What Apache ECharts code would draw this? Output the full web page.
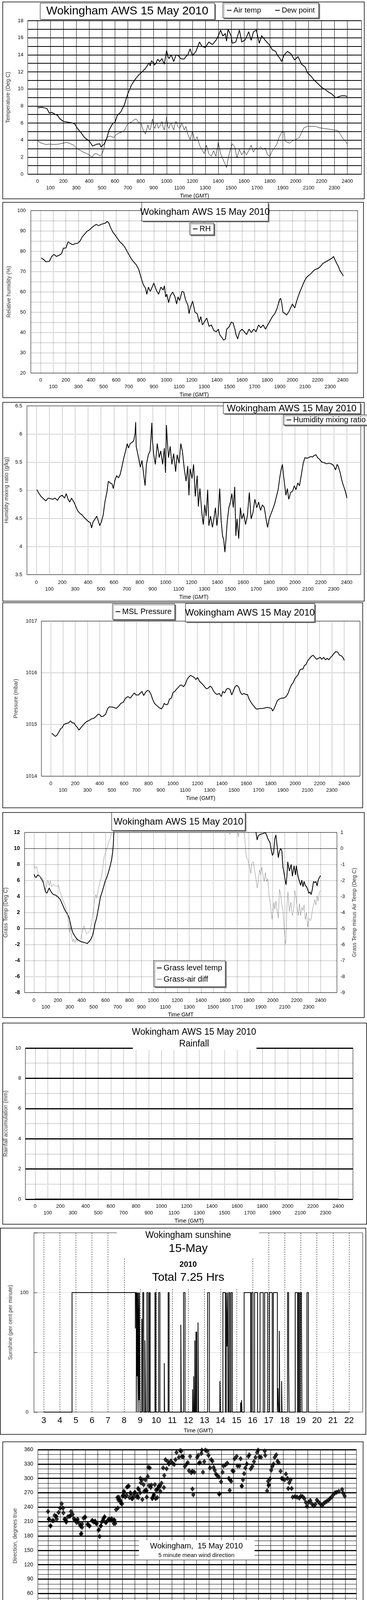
<!DOCTYPE html>
<html><head><meta charset="utf-8">
<script src="https://cdn.jsdelivr.net/npm/echarts@6/dist/echarts.min.js"></script>
<style>html,body{margin:0;padding:0;background:#fff}
#c1{position:absolute;left:0;top:0;width:940px;height:2612px}
#c2{position:absolute;left:0;top:2612px;width:940px;height:2188px}</style>
</head><body><div id="c1"></div><div id="c2"></div>
<script>
// ---------- tick labels ----------
const hhmmTicks = [0,100,200,300,400,500,600,700,800,900,1000,1100,1200,1300,1400,1500,1600,1700,1800,1900,2000,2100,2200,2300,2400];
const hourTicks = [0,1,2,3,4,5,6,7,8,9,10,11,12,13,14,15,16,17,18,19,20,21,22,23,24];
const windLabelHours = [0,1,2,3,4,5,6,7,8,9,10,11,12,13,14,15,16,17,18,19,20,21,22,23];
const sunTicks = [3,4,5,6,7,8,9,10,11,12,13,14,15,16,17,18,19,20,21,22];

// ---------- data (time hhmm, value) ----------
const airTemp = [[0,7.8],[36,7.85],[73,7.7],[91,7.17],[110,7.25],[127,7.1],[155,6.9],[173,6.5],[200,6.2],[236,6.1],[273,6.0],[291,5.85],[309,5.37],[336,4.88],[364,4.3],[400,3.9],[427,3.3],[455,3.5],[482,3.57],[491,3.2],[518,3.57],[536,4.2],[555,5.2],[582,5.94],[600,6.1],[618,6.9],[645,7.3],[673,8.15],[700,9.46],[727,10.44],[755,11.1],[782,11.6],[809,12.0],[836,12.4],[864,13.06],[873,12.7],[882,13.3],[891,13.2],[905,12.8],[918,13.0],[931,13.5],[945,13.2],[964,13.55],[982,12.9],[1000,14.5],[1009,13.9],[1018,13.55],[1036,14.0],[1055,13.2],[1073,14.0],[1091,13.9],[1109,13.55],[1136,13.5],[1150,13.8],[1164,14.0],[1182,14.7],[1200,13.9],[1227,14.4],[1255,15.5],[1273,15.0],[1300,14.86],[1327,15.5],[1355,15.2],[1382,15.7],[1400,16.2],[1418,16.9],[1436,16.2],[1455,16.5],[1464,15.6],[1476,17.0],[1500,16.2],[1509,15.35],[1536,15.5],[1564,16.9],[1582,15.5],[1609,15.76],[1622,16.2],[1636,16.7],[1655,15.7],[1673,16.7],[1695,16.9],[1718,15.35],[1736,16.25],[1764,15.7],[1800,15.1],[1818,14.6],[1845,14.4],[1860,13.9],[1873,13.7],[1891,13.2],[1909,13.96],[1936,14.4],[1964,14.1],[1991,13.4],[2018,13.8],[2045,12.9],[2073,12.57],[2091,11.9],[2118,11.5],[2145,11.0],[2173,10.6],[2200,10.2],[2227,9.95],[2255,9.62],[2282,9.38],[2309,8.97],[2327,9.05],[2355,9.2],[2382,9.2],[2400,9.1]];
const dewPoint = [[0,3.93],[27,3.65],[64,3.49],[91,3.53],[127,3.49],[164,3.53],[200,3.65],[227,3.73],[255,3.57],[282,3.4],[300,3.08],[327,2.83],[355,2.59],[382,2.42],[409,2.18],[422,1.96],[436,2.34],[455,2.42],[473,2.26],[485,2.13],[500,2.42],[513,2.91],[527,4.06],[545,4.39],[564,4.47],[591,4.3],[609,4.63],[627,4.8],[655,4.96],[673,5.12],[691,5.7],[709,6.02],[727,6.1],[745,6.35],[764,6.5],[782,6.1],[800,6.0],[818,5.2],[836,4.7],[855,5.78],[864,5.3],[873,5.2],[891,6.5],[900,5.6],[909,5.37],[918,5.9],[927,6.02],[936,5.4],[945,5.53],[955,5.9],[964,6.19],[973,5.5],[982,5.2],[1000,6.68],[1009,5.6],[1018,5.37],[1027,5.8],[1036,6.02],[1046,5.5],[1055,5.2],[1064,5.8],[1073,6.19],[1086,5.6],[1100,5.37],[1118,6.0],[1136,5.2],[1150,5.6],[1164,4.7],[1182,4.06],[1200,5.04],[1218,3.9],[1236,4.4],[1255,3.4],[1273,2.91],[1291,2.42],[1309,3.4],[1327,2.42],[1345,2.1],[1364,2.75],[1382,2.1],[1400,3.73],[1418,2.42],[1436,1.77],[1455,1.11],[1464,0.79],[1476,1.77],[1491,2.75],[1509,3.57],[1527,3.24],[1545,1.93],[1564,2.91],[1582,2.26],[1600,2.75],[1618,2.26],[1636,2.75],[1655,3.4],[1673,2.59],[1691,3.08],[1709,2.91],[1727,3.24],[1745,2.91],[1764,3.08],[1782,2.26],[1800,2.1],[1818,2.75],[1836,3.08],[1855,3.57],[1873,4.39],[1891,4.88],[1909,5.04],[1918,3.9],[1936,3.73],[1955,3.65],[1973,3.9],[2000,4.06],[2027,4.3],[2045,4.88],[2064,5.45],[2091,5.61],[2127,5.61],[2155,5.61],[2182,5.45],[2218,5.37],[2255,5.29],[2291,5.2],[2327,5.12],[2345,4.7],[2364,4.22],[2382,3.9],[2400,3.57]];
const relHum = [[4,76.6],[22,76.0],[41,74.8],[69,75.0],[88,77.4],[106,78.4],[125,77.4],[153,78.2],[166,78.8],[181,81.5],[200,81.5],[218,84.6],[237,83.7],[256,83.2],[274,83.7],[293,83.9],[312,84.9],[330,87.0],[349,88.4],[368,89.8],[386,90.4],[405,91.5],[424,92.5],[442,93.2],[461,92.5],[479,93.2],[498,93.5],[517,93.9],[526,94.6],[539,94.2],[554,91.8],[573,89.4],[591,88.0],[610,86.3],[629,84.6],[647,83.6],[666,82.2],[685,80.1],[703,78.1],[722,76.0],[741,74.6],[759,73.3],[778,71.2],[797,67.1],[815,63.6],[834,61.6],[843,58.8],[856,62.3],[871,60.2],[890,62.9],[899,64.3],[918,60.9],[937,58.8],[955,62.3],[974,60.9],[983,63.0],[993,57.5],[1002,58.8],[1017,54.7],[1030,58.1],[1049,59.9],[1067,57.5],[1080,54.0],[1091,57.5],[1104,55.7],[1123,60.2],[1136,59.9],[1151,56.1],[1170,53.3],[1179,49.2],[1188,52.0],[1207,55.4],[1226,49.9],[1244,49.2],[1259,45.1],[1272,47.8],[1285,43.7],[1300,45.1],[1319,47.1],[1338,43.0],[1356,43.7],[1375,41.0],[1394,40.3],[1412,41.6],[1422,38.9],[1440,37.5],[1453,36.2],[1468,36.8],[1478,41.6],[1496,42.7],[1515,45.1],[1528,44.7],[1543,41.6],[1552,38.9],[1565,36.8],[1580,40.3],[1599,41.6],[1618,40.3],[1636,38.9],[1655,41.6],[1674,39.9],[1692,41.6],[1711,40.3],[1731,43.7],[1749,42.3],[1767,43.7],[1786,41.6],[1804,43.7],[1823,45.8],[1841,47.8],[1860,49.2],[1879,52.0],[1888,54.0],[1897,56.1],[1907,56.8],[1916,54.0],[1925,49.9],[1944,49.2],[1953,48.5],[1972,50.2],[1990,52.7],[2000,54.0],[2018,52.0],[2037,56.1],[2056,59.5],[2075,62.3],[2093,65.0],[2112,67.1],[2131,68.1],[2149,69.1],[2177,70.9],[2205,71.5],[2224,72.6],[2243,74.0],[2261,74.6],[2280,75.3],[2299,76.0],[2317,76.7],[2327,77.4],[2336,76.0],[2349,74.3],[2364,72.6],[2377,70.5],[2392,69.1],[2405,67.8]];
const mixRatio = [[4,5.01],[18,4.95],[36,4.89],[54,4.85],[73,4.81],[91,4.86],[109,4.85],[127,4.84],[145,4.86],[163,4.82],[182,4.89],[200,4.91],[218,4.86],[231,4.94],[245,4.84],[258,4.79],[272,4.86],[290,4.79],[300,4.74],[318,4.64],[336,4.59],[354,4.56],[372,4.51],[390,4.47],[405,4.44],[418,4.42],[427,4.33],[439,4.44],[454,4.49],[467,4.54],[477,4.47],[490,4.37],[503,4.44],[517,4.56],[530,4.79],[545,4.96],[557,5.16],[572,5.13],[586,5.11],[595,5.03],[608,5.18],[621,5.26],[635,5.22],[648,5.28],[663,5.43],[677,5.58],[690,5.70],[703,5.83],[713,5.75],[726,5.83],[739,5.85],[753,5.88],[764,6.02],[768,6.21],[772,5.78],[790,5.58],[804,5.41],[817,5.53],[830,5.28],[841,5.08],[851,5.46],[866,5.63],[880,5.70],[893,6.2],[897,5.9],[908,5.63],[920,5.46],[935,5.83],[950,5.58],[962,5.70],[977,5.46],[990,5.75],[999,5.31],[1006,6.16],[1012,5.9],[1022,5.58],[1035,5.78],[1048,5.46],[1062,5.65],[1077,5.33],[1089,5.63],[1104,5.48],[1117,5.83],[1129,5.70],[1144,5.38],[1158,5.16],[1171,5.43],[1180,4.91],[1189,5.38],[1204,5.21],[1216,5.46],[1229,4.89],[1244,5.26],[1253,4.71],[1265,5.03],[1280,4.59],[1291,4.39],[1302,4.74],[1313,4.54],[1325,5.01],[1334,4.37],[1347,4.54],[1362,4.34],[1374,4.51],[1385,4.69],[1396,4.37],[1407,4.59],[1418,5.03],[1429,4.47],[1440,4.19],[1449,4.12],[1458,3.90],[1467,4.14],[1476,4.44],[1489,4.69],[1501,4.79],[1512,4.94],[1523,4.69],[1534,5.06],[1543,4.19],[1552,4.49],[1565,4.14],[1578,4.69],[1589,4.49],[1603,4.59],[1618,4.39],[1632,4.54],[1647,4.96],[1661,4.49],[1676,4.61],[1690,4.84],[1705,4.69],[1719,4.79],[1734,4.64],[1748,4.74],[1763,4.69],[1778,4.47],[1788,4.34],[1801,4.49],[1816,4.59],[1828,4.66],[1843,4.76],[1857,4.89],[1870,5.01],[1883,5.23],[1894,5.38],[1903,5.46],[1912,5.26],[1921,5.08],[1930,4.91],[1941,5.03],[1952,4.84],[1967,4.96],[1983,4.99],[1995,5.08],[2008,5.01],[2022,5.13],[2035,5.08],[2050,5.28],[2064,5.48],[2077,5.58],[2092,5.57],[2106,5.58],[2121,5.60],[2135,5.59],[2150,5.62],[2163,5.63],[2175,5.58],[2190,5.55],[2208,5.50],[2226,5.49],[2244,5.47],[2262,5.48],[2281,5.47],[2299,5.44],[2314,5.36],[2326,5.46],[2334,5.43],[2350,5.31],[2362,5.18],[2375,5.08],[2389,4.99],[2402,4.86]];
const mslPressure = [[8,1014.83],[23,1014.80],[36,1014.77],[50,1014.79],[65,1014.85],[81,1014.92],[94,1014.94],[107,1015.00],[127,1015.02],[146,1015.03],[161,1015.07],[177,1015.03],[190,1015.03],[203,1014.98],[219,1014.94],[230,1014.89],[247,1014.94],[261,1014.98],[276,1015.02],[295,1015.06],[315,1015.08],[334,1015.11],[353,1015.12],[372,1015.16],[387,1015.20],[401,1015.19],[414,1015.15],[430,1015.16],[449,1015.20],[464,1015.30],[478,1015.34],[497,1015.34],[516,1015.33],[535,1015.31],[554,1015.35],[574,1015.41],[593,1015.43],[612,1015.51],[631,1015.54],[650,1015.51],[670,1015.57],[683,1015.61],[698,1015.57],[717,1015.57],[733,1015.61],[746,1015.64],[760,1015.56],[775,1015.62],[790,1015.66],[803,1015.65],[817,1015.60],[833,1015.49],[848,1015.41],[861,1015.38],[875,1015.35],[890,1015.32],[905,1015.30],[919,1015.35],[928,1015.41],[942,1015.38],[957,1015.39],[971,1015.49],[986,1015.51],[1001,1015.62],[1015,1015.64],[1028,1015.68],[1044,1015.72],[1059,1015.76],[1072,1015.76],[1086,1015.73],[1101,1015.78],[1115,1015.87],[1130,1015.92],[1143,1015.95],[1159,1015.93],[1174,1015.91],[1187,1015.87],[1201,1015.91],[1216,1015.84],[1232,1015.80],[1245,1015.77],[1259,1015.73],[1274,1015.69],[1287,1015.70],[1303,1015.74],[1316,1015.72],[1331,1015.65],[1347,1015.60],[1360,1015.58],[1379,1015.60],[1395,1015.54],[1408,1015.64],[1423,1015.61],[1437,1015.68],[1450,1015.70],[1466,1015.68],[1481,1015.57],[1494,1015.65],[1508,1015.73],[1523,1015.76],[1538,1015.72],[1552,1015.62],[1565,1015.58],[1581,1015.60],[1596,1015.58],[1609,1015.58],[1623,1015.49],[1638,1015.43],[1653,1015.38],[1667,1015.34],[1680,1015.30],[1696,1015.30],[1715,1015.31],[1734,1015.31],[1753,1015.32],[1772,1015.33],[1792,1015.32],[1807,1015.31],[1815,1015.26],[1826,1015.30],[1840,1015.38],[1853,1015.46],[1869,1015.49],[1888,1015.51],[1907,1015.51],[1926,1015.54],[1941,1015.60],[1955,1015.69],[1968,1015.76],[1983,1015.81],[1998,1015.89],[2012,1015.93],[2025,1015.97],[2037,1016.05],[2050,1016.07],[2063,1016.07],[2075,1016.14],[2088,1016.16],[2102,1016.23],[2118,1016.28],[2133,1016.32],[2147,1016.34],[2160,1016.30],[2175,1016.26],[2191,1016.28],[2204,1016.30],[2218,1016.26],[2233,1016.30],[2248,1016.25],[2262,1016.28],[2275,1016.25],[2290,1016.30],[2304,1016.33],[2319,1016.38],[2333,1016.41],[2348,1016.40],[2363,1016.34],[2377,1016.33],[2390,1016.30],[2402,1016.24]];
const grassTemp = [[2,6.78],[10,6.45],[20,6.37],[30,6.69],[49,6.53],[69,6.04],[79,5.71],[89,5.06],[98,4.57],[108,4.41],[118,4.73],[128,5.06],[138,4.73],[148,4.49],[163,4.24],[183,4.16],[203,3.92],[222,3.59],[236,3.10],[250,2.61],[266,2.12],[281,1.80],[295,1.31],[305,0.65],[315,0.0],[325,-0.49],[334,-0.73],[344,-0.98],[360,-1.31],[374,-1.47],[393,-1.63],[413,-1.71],[433,-1.80],[447,-1.88],[462,-1.63],[478,-1.31],[492,-0.82],[502,-0.16],[512,0.65],[525,1.31],[541,2.61],[557,3.92],[571,4.57],[584,5.22],[596,5.88],[610,6.37],[624,7.02],[639,7.84],[651,8.65],[659,9.5],[665,10.5],[669,12],[675,13.5],[700,null],[1855,13.0],[1859,12.0],[1869,11.06],[1879,11.6],[1898,11.77],[1918,11.86],[1938,11.98],[1948,11.68],[1958,11.24],[1977,10.71],[1987,9.82],[1997,9.12],[2007,9.47],[2017,11.24],[2026,11.68],[2036,10.35],[2046,8.85],[2056,9.65],[2066,10.0],[2076,9.65],[2085,7.67],[2095,6.86],[2105,5.88],[2111,5.47],[2119,6.69],[2125,8.33],[2139,7.18],[2154,8.0],[2164,6.53],[2178,7.84],[2190,6.69],[2197,7.84],[2209,6.69],[2217,6.20],[2233,5.39],[2243,6.04],[2253,5.22],[2262,5.88],[2272,5.39],[2282,5.22],[2292,4.90],[2302,4.41],[2312,4.57],[2321,4.24],[2331,4.90],[2341,5.88],[2351,5.71],[2361,5.88],[2371,5.31],[2380,6.04],[2390,6.37],[2400,6.61]];
const grassAirDiff = [[2,-1.08],[10,-1.24],[20,-1.12],[30,-1.41],[39,-1.65],[49,-1.73],[59,-1.94],[69,-1.82],[79,-2.06],[89,-2.39],[98,-2.55],[108,-2.22],[118,-1.98],[128,-2.31],[138,-2.02],[148,-2.39],[163,-2.22],[177,-2.31],[191,-2.39],[207,-2.31],[216,-2.63],[226,-2.88],[242,-3.20],[256,-3.45],[270,-3.78],[281,-4.02],[289,-4.67],[297,-5.24],[305,-4.92],[315,-5.49],[325,-5.82],[334,-5.65],[344,-5.90],[354,-5.65],[364,-5.82],[380,-5.73],[393,-5.65],[407,-5.08],[419,-4.84],[427,-5.08],[443,-5.33],[458,-5.24],[472,-5.08],[486,-4.51],[498,-3.86],[508,-3.20],[518,-2.88],[525,-3.12],[537,-2.63],[551,-2.14],[565,-1.82],[576,-1.24],[584,-0.76],[590,-0.43],[600,-0.27],[610,0.0],[624,0.35],[639,0.62],[649,1.0],[655,1.4],[700,null],[1630,1.3],[1640,0.88],[1655,1.3],[1690,null],[1700,1.3],[1712,0.71],[1722,1.3],[1740,null],[1760,1.3],[1771,0.0],[1780,-0.62],[1790,-0.67],[1804,-1.08],[1816,-1.57],[1824,-0.92],[1836,-0.84],[1849,-1.41],[1859,-1.90],[1869,-2.47],[1879,-2.06],[1889,-1.33],[1899,-1.65],[1908,-1.16],[1918,-1.65],[1928,-2.06],[1938,-1.49],[1948,-2.06],[1958,-1.90],[1967,-2.80],[1977,-3.37],[1987,-3.94],[1993,-4.43],[2001,-3.94],[2009,-3.37],[2017,-3.78],[2026,-3.29],[2036,-3.86],[2046,-4.35],[2056,-2.55],[2066,-2.88],[2076,-3.53],[2085,-3.86],[2095,-5.0],[2101,-5.73],[2107,-5.98],[2111,-5.49],[2119,-3.53],[2127,-2.71],[2139,-3.94],[2151,-3.37],[2164,-4.18],[2174,-3.86],[2184,-2.63],[2194,-3.04],[2204,-3.69],[2213,-4.18],[2223,-3.45],[2233,-4.18],[2243,-3.69],[2253,-3.86],[2262,-3.53],[2272,-4.43],[2282,-4.02],[2292,-4.92],[2302,-4.35],[2312,-4.51],[2321,-4.43],[2331,-3.86],[2341,-3.53],[2351,-3.20],[2361,-3.53],[2371,-2.96],[2380,-3.29],[2390,-2.71],[2400,-2.63]];
const rainfall = [[0,0],[600,0],[1200,0],[1800,0],[2400,0]];
// sunshine: (hour, per cent) – each value holds until the next point
const sunshine = [[3.00,0],[4.76,100],[8.70,70],[8.71,100],[8.76,0],[8.78,100],[8.81,30],[8.83,100],[8.87,0],[8.89,100],[8.93,10],[8.95,100],[8.99,0],[9.10,78],[9.14,0],[9.16,100],[9.22,0],[9.30,60],[9.34,0],[9.42,100],[9.50,0],[9.57,100],[9.62,0],[9.92,100],[9.98,0],[10.15,100],[10.23,0],[10.50,41],[10.52,0],[10.74,100],[10.80,0],[11.53,73],[11.56,0],[11.70,100],[11.79,0],[12.26,19],[12.28,0],[12.33,30],[12.35,0],[12.40,60],[12.42,0],[12.47,67],[12.52,0],[12.60,75],[12.63,0],[13.20,100],[13.31,0],[13.96,26],[13.99,0],[14.15,100],[14.30,0],[14.36,100],[14.40,55],[14.44,100],[14.47,0],[14.52,100],[14.59,0],[14.66,100],[14.74,0],[15.25,8],[15.28,0],[15.31,10],[15.34,0],[15.47,100],[15.88,0],[15.93,100],[16.02,0],[16.12,100],[16.31,0],[16.46,100],[16.66,0],[16.75,100],[16.93,0],[17.04,100],[17.22,0],[17.29,100],[17.54,0],[17.58,20],[17.61,0],[17.66,68],[17.69,0],[17.80,26],[17.83,0],[18.17,100],[18.24,40],[18.27,0],[18.65,100],[18.80,0],[18.85,100],[18.91,0],[18.97,100],[19.04,80],[19.07,0],[19.38,100],[19.47,0],[22.00,0]];
// wind direction (hour, degrees)
const windDir = [[0.0,231],[0.09,215],[0.21,201],[0.35,212],[0.53,223],[0.67,221],[0.71,215],[0.85,229],[0.98,238],[1.10,247],[1.21,238],[1.24,228],[1.33,215],[1.47,209],[1.60,220],[1.74,221],[1.86,231],[1.99,225],[2.09,216],[2.22,212],[2.30,208],[2.39,215],[2.52,206],[2.62,201],[2.70,185],[2.75,205],[2.87,217],[3.01,219],[3.19,204],[3.33,201],[3.55,212],[3.69,209],[3.81,209],[3.94,206],[4.11,193],[4.26,201],[4.34,209],[4.47,216],[4.57,220],[4.70,208],[4.84,213],[5.0,213],[5.14,216],[5.32,213],[5.43,206],[5.50,235],[5.64,238],[5.71,261],[5.82,255],[5.90,248],[6.03,263],[6.12,273],[6.24,261],[6.38,282],[6.52,284],[6.65,270],[6.77,258],[6.91,263],[7.0,270],[7.18,261],[7.27,279],[7.45,270],[7.62,256],[7.77,273],[7.89,275],[7.98,261],[8.16,285],[8.30,281],[8.42,258],[8.55,266],[8.69,258],[8.83,277],[8.95,284],[9.08,273],[9.36,281],[11.67,278],[11.74,266],[13.83,267],[14.68,275],[15.66,284],[17.70,274],[17.82,285],[19.41,279],[19.68,279],[19.77,261],[19.95,262],[20.12,261],[20.30,259],[20.43,263],[20.57,262],[20.71,258],[20.83,250],[20.92,242],[21.06,250],[21.19,254],[21.31,247],[21.45,243],[21.60,246],[21.72,255],[21.84,251],[21.99,247],[22.13,243],[22.25,247],[22.38,250],[22.52,252],[22.66,255],[22.78,258],[22.91,261],[23.05,266],[23.19,270],[23.32,271],[23.49,273],[23.76,277],[23.85,269],[23.97,263],
[0.06,215],[0.19,201],[0.44,212],[0.63,220],[1.39,215],[1.48,211],[1.8,222],[2.18,213],[2.37,212],[2.66,201],[2.66,184],[2.75,198],[2.98,219],[3.23,204],[3.36,201],[3.6,212],[3.8,211],[3.89,206],[4.08,192],[4.17,179],[4.27,201],[4.46,212],[4.55,219],[4.65,208],[4.93,215],[5.12,213],[5.31,206],[5.37,213],[10.53,16],[10.49,6],[12.9,15.5],[17.3,9.5],[17.42,6.3],
[5.6,260],[5.69,255],[5.88,251],[5.98,247],[6.07,265],[6.17,271],[6.36,265],[6.45,283],[6.58,260],[6.7,268],[6.83,258],[7.02,271],[7.21,265],[7.31,260],[7.34,277],[7.46,300],[7.5,291],[7.59,297],[7.72,287],[7.87,297],[7.97,274],[8.06,304],[8.1,323],[8.22,322],[8.35,286],[8.44,260],[8.54,265],[8.63,287],[8.73,276],[8.82,260],[8.92,281],[9.05,284],[9.17,290],[9.3,322],[9.39,306],[9.49,339],[9.58,320],[9.68,335],[9.77,330],[9.92,336],[10.06,332],[10.19,329],[10.3,339],[10.38,354],[10.57,344],[10.68,358],[10.76,357],[10.82,346],[10.91,345],[11.06,325],[11.2,330],[11.29,333],[11.39,316],[11.48,346],[11.58,312],[11.67,315],[11.82,313],[12.05,344],[12.14,348],[12.2,332],[12.28,333],[12.39,352],[12.43,359],[12.52,313],[12.62,335],[12.71,359],[12.85,357],[12.96,348],[13.09,322],[13.19,339],[13.28,336],[13.38,323],[13.47,317],[13.57,309],[13.66,306],[13.8,303],[13.85,268],[13.98,293],[14.1,313],[14.17,326],[14.33,328],[14.48,332],[14.61,300],[14.71,297],[14.8,294],[14.9,316],[14.99,315],[15.08,341],[15.24,346],[15.31,326],[15.46,326],[15.56,341],[15.65,284],[15.75,297],[15.84,310],[15.94,322],[16.07,330],[16.19,346],[16.26,349],[16.38,320],[16.51,325],[16.64,335],[16.76,344],[16.89,354],[16.98,359],[17.08,345],[17.21,344],[17.51,357],[17.55,348],[17.78,294],[17.84,287],[17.93,299],[18.03,317],[18.12,325],[18.22,330],[18.31,344],[18.44,349],[18.54,336],[18.63,333],[18.79,315],[18.88,300],[18.98,299],[19.11,297],[19.22,309],[19.35,300],[19.49,291],[19.6,297]];
// wind speed (hour, knots)
const windMean = [[0.04,2.76],[0.22,2.3],[0.49,2.53],[0.67,2.18],[0.95,2.3],[1.22,2.44],[1.49,2.18],[1.76,2.53],[1.95,1.87],[2.13,1.64],[2.4,1.55],[2.67,1.64],[2.85,1.87],[3.13,2.3],[3.4,2.18],[3.67,2.08],[3.95,2.08],[4.22,1.87],[4.49,2.0],[4.76,2.3],[5.04,2.44],[5.31,2.08],[5.55,1.42],[5.67,2.08],[5.85,3.2],[6.04,2.76],[6.22,2.53],[6.4,3.2],[6.58,2.98],[6.76,3.42],[6.95,3.2],[7.13,3.86],[7.31,4.31],[7.49,5.2],[7.67,3.86],[7.85,3.2],[8.04,4.31],[8.22,4.76],[8.4,4.09],[8.58,3.07],[8.76,4.31],[8.95,5.2],[9.13,4.09],[9.31,4.53],[9.49,2.3],[9.67,4.76],[9.85,5.2],[10.04,4.09],[10.22,4.98],[10.4,4.53],[10.58,5.64],[10.76,4.98],[10.95,6.09],[11.13,7.2],[11.31,6.09],[11.49,4.76],[11.67,5.2],[11.85,3.42],[12.04,5.64],[12.22,4.31],[12.4,3.2],[12.58,5.64],[12.76,6.98],[12.95,4.31],[13.13,6.09],[13.31,4.76],[13.49,3.86],[13.67,5.42],[13.85,6.98],[14.04,6.09],[14.22,7.42],[14.4,6.09],[14.58,6.98],[14.76,3.42],[14.95,7.2],[15.13,7.87],[15.31,6.53],[15.49,5.2],[15.67,6.09],[15.85,4.98],[16.04,5.2],[16.22,6.09],[16.4,4.76],[16.58,3.42],[16.76,5.2],[16.95,6.09],[17.13,5.64],[17.31,3.86],[17.49,3.2],[17.67,4.31],[17.85,4.76],[18.04,3.42],[18.22,2.53],[18.4,2.3],[18.58,2.08],[18.85,1.42],[19.04,2.08],[19.22,2.53],[19.4,2.98],[19.58,3.2],[19.76,2.76],[19.95,2.98],[20.13,3.42],[20.31,3.86],[20.49,4.76],[20.67,5.2],[20.85,4.31],[21.04,3.64],[21.31,4.53],[21.58,4.76],[21.85,4.98],[22.04,6.09],[22.22,5.64],[22.4,4.98],[22.67,4.31],[22.95,3.64],[23.22,3.64],[23.49,3.64],[23.67,4.31],[23.85,3.42]];
const windGust = [[0.04,3.87],[0.13,4.3],[0.27,3.6],[0.36,4.5],[0.49,3.2],[0.64,3.9],[0.76,3.0],[0.89,3.6],[1.04,4.1],[1.18,3.0],[1.31,3.9],[1.44,4.3],[1.58,3.2],[1.73,3.9],[1.85,3.0],[2.04,2.5],[2.16,2.1],[2.31,1.6],[2.45,2.1],[2.58,2.3],[2.76,1.9],[2.89,3.2],[3.04,3.9],[3.18,3.0],[3.31,3.6],[3.44,3.2],[3.58,2.8],[3.76,3.0],[3.95,2.5],[4.13,2.8],[4.31,2.5],[4.49,3.0],[4.67,2.8],[4.85,3.4],[5.04,3.2],[5.22,2.8],[5.4,2.5],[5.55,1.6],[5.67,5.6],[5.76,4.3],[5.85,6.1],[5.98,3.9],[6.13,5.0],[6.27,4.3],[6.4,5.6],[6.53,4.3],[6.67,6.1],[6.85,4.8],[7.04,6.1],[7.22,3.9],[7.36,7.0],[7.49,8.7],[7.58,6.1],[7.76,7.4],[7.95,9.2],[8.04,5.2],[8.16,7.9],[8.31,6.1],[8.45,8.5],[8.58,5.2],[8.73,9.2],[8.85,6.1],[9.0,8.3],[9.13,5.2],[9.25,7.9],[9.4,3.4],[9.55,7.4],[9.67,11.0],[9.8,7.0],[9.95,11.0],[10.09,6.1],[10.22,9.6],[10.35,7.0],[10.49,10.1],[10.64,6.1],[10.76,9.2],[10.89,11.9],[11.0,13.2],[11.07,9.6],[11.18,11.0],[11.31,7.9],[11.44,7.0],[11.58,8.7],[11.73,6.5],[11.85,4.8],[11.98,7.0],[12.13,4.3],[12.27,7.9],[12.4,6.1],[12.53,12.3],[12.64,8.7],[12.76,10.5],[12.89,5.2],[13.04,8.7],[13.18,6.5],[13.31,9.6],[13.44,5.2],[13.58,7.9],[13.73,5.6],[13.85,11.0],[13.98,12.7],[14.09,9.6],[14.22,12.3],[14.36,14.3],[14.49,10.5],[14.6,6.1],[14.71,4.3],[14.82,13.6],[14.95,10.5],[15.07,11.4],[15.22,8.3],[15.36,10.1],[15.49,7.0],[15.62,9.6],[15.76,12.3],[15.91,7.9],[16.04,9.6],[16.16,6.1],[16.31,11.0],[16.45,7.0],[16.58,4.3],[16.71,10.5],[16.85,7.9],[17.0,9.6],[17.13,7.0],[17.25,6.1],[17.4,5.2],[17.55,7.0],[17.67,4.3],[17.76,9.2],[17.91,5.2],[18.04,4.3],[18.16,3.9],[18.31,3.0],[18.45,3.4],[18.58,3.9],[18.71,2.5],[18.85,1.6],[19.0,5.6],[19.13,3.9],[19.25,5.2],[19.4,6.1],[19.55,4.3],[19.67,5.2],[19.8,3.4],[19.95,5.6],[20.09,4.3],[20.22,6.1],[20.35,4.8],[20.49,9.2],[20.64,7.0],[20.76,7.4],[20.89,5.6],[21.04,5.2],[21.13,8.3],[21.25,7.0],[21.4,7.4],[21.55,6.5],[21.67,7.9],[21.8,10.5],[21.91,7.9],[22.04,9.6],[22.16,7.0],[22.31,7.9],[22.45,6.5],[22.58,7.0],[22.71,5.6],[22.85,6.1],[23.0,4.8],[23.13,5.6],[23.25,4.3],[23.4,7.9],[23.55,4.8],[23.67,6.1],[23.76,4.3],[23.85,5.6],[23.95,3.2]];

// ---------- chart helpers ----------
const F = "'Liberation Sans', Arial, Helvetica, sans-serif";
const dotted = {color:'#000', width:1, type:[1,2]};
let opt, G, OFF = 0;
function newOption(off){OFF=off;opt={animation:false,backgroundColor:'#fff',grid:[],xAxis:[],yAxis:[],series:[],legend:[],graphic:{elements:[]}};G=opt.graphic.elements;}
function addGrid(l,t,w,h){opt.grid.push({left:l,top:t-OFF,width:w,height:h,show:true,borderColor:'#000',borderWidth:1,backgroundColor:'rgba(0,0,0,0)'});return opt.grid.length-1;}
function addX(o){opt.xAxis.push(o);return opt.xAxis.length-1;}
function addY(o){opt.yAxis.push(o);return opt.yAxis.length-1;}
function ts(size,extra){return Object.assign({fontFamily:F,fontSize:size,color:'#000'},extra||{});}
function hhmmX(gi,min,max,margin,nameGap,name,split){
  return {type:'value',gridIndex:gi,min:min,max:max,name:name,nameLocation:'middle',nameGap:nameGap,nameTextStyle:ts(14),
    axisLine:{show:false},axisTick:{show:false,customValues:hhmmTicks},
    axisLabel:Object.assign(ts(13),{customValues:hhmmTicks,margin:margin,lineHeight:17,showMinLabel:true,showMaxLabel:true,
      formatter:function(v){return (Math.round(v/100)%2)?'\n'+v:String(v);}}),
    splitLine:{show:true,lineStyle:split}};
}
function valY(gi,min,max,interval,name,nameGap,labelOpt,split,extra){
  return Object.assign({type:'value',gridIndex:gi,position:'left',min:min,max:max,interval:interval,name:name,nameLocation:'middle',nameGap:nameGap,
    nameTextStyle:ts(14,{color:'#333'}),axisLine:{show:false},axisTick:{show:false},
    axisLabel:Object.assign(ts(13,{formatter:function(v){return String(v);}}),labelOpt||{}),splitLine:{show:!!split,lineStyle:split||{}}},extra||{});
}
function line(name,xi,yi,data,width,color){
  return {name:name,type:'line',xAxisIndex:xi,yAxisIndex:yi,data:data,showSymbol:false,symbol:'none',connectNulls:false,
    lineStyle:{width:width,color:color},itemStyle:{color:color},z:3,silent:true};
}
function frame(x,y,w,h){G.push({type:'rect',shape:{x:x,y:y-OFF,width:w,height:h},style:{fill:'none',stroke:'#000',lineWidth:1.5},z:50});}
function box(x,y,w,h,shadow,border){
  if(shadow)G.push({type:'rect',shape:{x:x+3,y:y+3-OFF,width:w,height:h},style:{fill:'#7a7a7a'},z:99});
  G.push({type:'rect',shape:{x:x,y:y-OFF,width:w,height:h},style:{fill:'#fff',stroke:border?'#000':null,lineWidth:1},z:100});
}
function text(x,y,s,size,weight){G.push({type:'text',x:x,y:y-OFF,style:{text:s,fontFamily:F,fontSize:size,fontWeight:weight||'normal',fill:'#000',align:'center',verticalAlign:'middle'},z:101});}
function legend(o){o.top=o.top-OFF;opt.legend.push(Object.assign({backgroundColor:'#fff',borderColor:'#000',borderWidth:1,
  shadowColor:'#7a7a7a',shadowOffsetX:3,shadowOffsetY:3,shadowBlur:0,icon:'rect',itemWidth:12,itemHeight:2,
  selectedMode:false,textStyle:ts(19),z:120},o));}
let g,x,y;

// ================= chart 1 (panels 1-5) =================
newOption(0);
// ---- Panel 1: temperature ----
frame(7,5,926,504);
g = addGrid(71,53,855,393);
x = addX(hhmmX(g,-76,2510,10,49,'Time (GMT)',{color:'#000',width:1}));
y = addY(valY(g,0,18,1,'Temperature (Deg C)',43,{margin:11,formatter:function(v){return v%2?'':String(v);}},{color:'#000',width:2.2}));
opt.series.push(line('Air temp',x,y,airTemp,2,'#000'));
opt.series.push(line('Dew point',x,y,dewPoint,1,'#000'));
box(103,8,447,42,true,true); text(326,29,'Wokingham AWS 15 May 2010',30);
legend({left:571,top:7,orient:'horizontal',data:['Air temp','Dew point'],padding:[10,10],itemGap:36});

// ---- Panel 2: RH ----
frame(7,518,924,500);
g = addGrid(79,539,837,416);
x = addX(hhmmX(g,-78,2518,10,49,'Time (GMT)',dotted));
y = addY(valY(g,20,100,5,'Relative humidity (%)',49,{margin:13,formatter:function(v){return v%10?'':String(v);}},dotted));
opt.series.push(line('RH',x,y,relHum,2,'#000'));
box(363,518,324,48,true,true); text(525,543,'Wokingham AWS 15 May 2010',24);
legend({left:486,top:571,data:['RH'],padding:[5,8],textStyle:ts(20)});

// ---- Panel 3: mixing ratio ----
frame(7,1030,926,509);
g = addGrid(69,1039,855,432);
x = addX(hhmmX(g,-73,2509,12,51,'Time (GMT)',dotted));
y = addY(valY(g,3.5,6.5,0.5,'Humidity mixing ratio (g/kg)',45,{margin:12},dotted));
opt.series.push(line('Humidity mixing ratio',x,y,mixRatio,2,'#000'));
box(572,1031,351,28,true,true); text(747,1046,'Wokingham AWS 15 May 2010',24);
legend({left:726,top:1062,data:['Humidity mixing ratio'],padding:[3,8],textStyle:ts(20)});

// ---- Panel 4: pressure ----
frame(7,1543,922,525);
g = addGrid(106,1590,816,397);
x = addX(hhmmX(g,-77,2530,11,50,'Time (GMT)',dotted));
y = addY(valY(g,1014,1017,1,'Pressure (mbar)',58,{margin:11},dotted));
opt.series.push(line('MSL Pressure',x,y,mslPressure,2,'#000'));
box(475,1545,331,47,true,true); text(640,1569,'Wokingham AWS 15 May 2010',24);
legend({left:288,top:1546,data:['MSL Pressure'],padding:[10,8],textStyle:ts(20)});

// ---- Panel 5: grass temperature ----
frame(7,2080,926,525);
g = addGrid(63,2131,800,410);
x = addX(hhmmX(g,-78,2537,12,50,'Time GMT',dotted));
const yL = addY(valY(g,-8,12,2,'Grass Temp (Deg C)',41,{margin:12,fontWeight:'bold',fontSize:14},dotted));
const yR = addY(valY(g,-9,1,1,'Grass Temp minus Air Temp (Deg C)',38,{margin:9},null,{position:'right'}));
const gt = line('Grass level temp',x,yL,grassTemp,2,'#000');
gt.markLine = {silent:true,symbol:'none',label:{show:false},lineStyle:{color:'#000',width:1,type:'solid'},data:[{yAxis:0},{yAxis:10}]};
opt.series.push(gt);
opt.series.push(line('Grass-air diff',x,yR,grassAirDiff,1,'#8a8a8a'));
box(286,2080,342,46,true,true); text(457,2104,'Wokingham AWS 15 May 2010',24);
legend({left:394,top:2459,orient:'vertical',data:['Grass level temp','Grass-air diff'],padding:[9,8],itemGap:9,textStyle:ts(20)});

echarts.init(document.getElementById('c1'),null,{renderer:'canvas',width:940,height:2612}).setOption(opt);

// ================= chart 2 (panels 6-9) =================
newOption(2612);
// ---- Panel 6: rainfall ----
frame(7,2619,932,515);
g = addGrid(62,2683,842,387);
x = addX(hhmmX(g,-77,2517,10,49,'Time (GMT)',dotted));
addY(valY(g,0,10,1,'',0,{show:false},dotted));
y = addY(valY(g,0,10,2,'Rainfall accumulation (mm)',43,{margin:11},{color:'#000',width:3}));
opt.series.push(line('Rainfall',x,y,rainfall,3,'#000'));
box(340,2620,317,68,false,false);
text(497,2643,'Wokingham AWS 15 May 2010',23); text(497,2673,'Rainfall',23);

// ---- Panel 7: sunshine ----
frame(1,3144,936,528);
g = addGrid(87,3156,842,459);
x = addX({type:'value',gridIndex:g,min:2.39,max:22.85,name:'Time (GMT)',nameLocation:'middle',nameGap:41,nameTextStyle:ts(14),
  axisLine:{show:false},axisTick:{show:false,customValues:sunTicks},
  axisLabel:Object.assign(ts(22),{customValues:sunTicks,margin:11,showMinLabel:true,showMaxLabel:true}),
  splitLine:{show:true,lineStyle:{color:'#000',width:1,type:[3,3]}}});
y = addY(valY(g,0,150,50,'Sunshine (per cent per minute)',53,{margin:14,formatter:function(v){return (v===0||v===100)?String(v):'';}},
  {color:'#aaa',width:1,type:[1,1]},{axisTick:{show:true,inside:true,length:9,lineStyle:{color:'#000'}}}));
const sun = line('Sunshine',x,y,sunshine,2,'#000'); sun.step='end';
opt.series.push(sun);
box(299,3145,365,77,false,false); box(322,3220,322,77,false,false);
text(482,3163,'Wokingham sunshine',23); text(482,3197,'15-May',30); text(482,3237,'2010',20,'bold'); text(482,3271,'Total 7.25 Hrs',30);

// ---- Panel 8: wind direction ----
frame(7,3691,923,515);
g = addGrid(97,3711,816,442);
x = addX({type:'value',gridIndex:g,min:-0.82,max:24.92,name:'Time (GMT)',nameLocation:'middle',nameGap:33,nameTextStyle:ts(14),
  axisLine:{show:false},axisTick:{show:false,customValues:hourTicks},
  axisLabel:Object.assign(ts(13),{customValues:hourTicks,margin:12,showMinLabel:true,showMaxLabel:true}),
  splitLine:{show:true,lineStyle:{color:'#000',width:1}}});
addY(valY(g,0,360,10,'',0,{show:false},{color:'#000',width:1}));
y = addY(valY(g,0,360,30,'Direction, degrees true',51,{margin:12,fontSize:14},{color:'#000',width:3}));
opt.series.push({name:'Wind direction',type:'scatter',xAxisIndex:x,yAxisIndex:y,data:windDir,symbol:'diamond',symbolSize:[11,14],
  itemStyle:{color:'#000'},z:3,silent:true});
box(356,3943,296,50,false,false);
text(503,3958,'Wokingham,  15 May 2010',20); text(503,3982,'5 minute mean wind direction',15);

// ---- Panel 9: wind speed ----
frame(11,4215,924,500);
g = addGrid(73,4259,856,377);
x = addX({type:'value',gridIndex:g,min:-0.76,max:25.18,name:'Time (GMT)',nameLocation:'middle',nameGap:49,nameTextStyle:ts(14),
  axisLine:{show:false},axisTick:{show:false,customValues:hourTicks},
  axisLabel:Object.assign(ts(14),{customValues:windLabelHours,margin:10,lineHeight:17,showMinLabel:true,showMaxLabel:true,
    formatter:function(v){const s=(v<10?'0':'')+v+':00';return v%2?'\n'+s:s;}}),
  splitLine:{show:true,lineStyle:dotted}});
y = addY(valY(g,0,50,5,'Speed (knots)',42,{margin:11,fontSize:14,formatter:function(v){return v%10?'':String(v);}},dotted));
opt.series.push(line('10 Min mean speed',x,y,windMean,2,'#000'));
opt.series.push(line('Gusts',x,y,windGust,1,'#000'));
text(315,4237,'Wokingham,  15 May 2010',22); text(557,4237,'Wind speed',20,'bold');
legend({left:714,top:4217,orient:'vertical',data:['10 Min mean speed','Gusts'],padding:[5,8],itemGap:7,textStyle:ts(17)});

echarts.init(document.getElementById('c2'),null,{renderer:'canvas',width:940,height:2188}).setOption(opt);
</script></body></html>
